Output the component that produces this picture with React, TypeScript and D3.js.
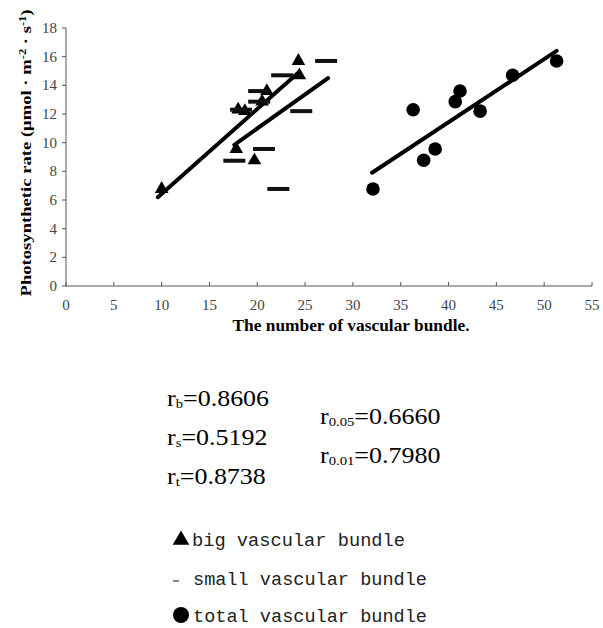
import React from "react";
import * as d3 from "d3";

const xTicks = [0, 5, 10, 15, 20, 25, 30, 35, 40, 45, 50, 55];
const yTicks = [0, 2, 4, 6, 8, 10, 12, 14, 16, 18];

// big vascular bundle (triangles)
const bigX = [10.0, 17.8, 19.7, 18.0, 18.7, 20.5, 21.0, 24.4, 24.3];
const bigY = [6.77, 9.56, 8.77, 12.3, 12.2, 12.86, 13.6, 14.7, 15.7];
// small vascular bundle (dashes)
const smallX = [22.2, 20.7, 17.6, 18.3, 24.6, 20.2, 20.2, 22.6, 27.2];
const smallY = [6.77, 9.56, 8.74, 12.3, 12.2, 12.86, 13.6, 14.7, 15.7];
// total vascular bundle (circles)
const totalX = [32.1, 38.6, 37.4, 36.3, 43.3, 40.7, 41.2, 46.7, 51.3];
const totalY = [6.77, 9.56, 8.77, 12.3, 12.2, 12.86, 13.6, 14.7, 15.7];

// fitted lines [x1, y1, x2, y2]
const bigFit = [9.6, 6.2, 24.4, 14.95];
const smallFit = [17.6, 9.85, 27.4, 14.5];
const totalFit = [32.0, 7.9, 51.3, 16.4];

const stats = [
  { sub: "b", val: "=0.8606" },
  { sub: "s", val: "=0.5192" },
  { sub: "t", val: "=0.8738" },
];
const crit = [
  { sub: "0.05", val: "=0.6660" },
  { sub: "0.01", val: "=0.7980" },
];
const legendLabels = ["big vascular bundle", "small vascular bundle", "total vascular bundle"];

export default function App() {
  const x = d3.scaleLinear().domain([0, 55]).range([66, 592]);
  const y = d3.scaleLinear().domain([0, 18]).range([286, 28]);
  const tri = d3.symbol().type(d3.symbolTriangle).size(80)();
  const triLegend = d3.symbol().type(d3.symbolTriangle).size(120)();
  const serif = "'Liberation Serif', 'DejaVu Serif', serif";
  const mono = "'Liberation Mono', 'DejaVu Sans Mono', monospace";
  const line = (f: number[], key: string) => (
    <line key={key} x1={x(f[0])} y1={y(f[1])} x2={x(f[2])} y2={y(f[3])} stroke="#000" strokeWidth={4} strokeLinecap="round" />
  );
  return (
    <svg width={603} height={628} style={{ position: "absolute", left: 0, top: 0, background: "#fff" }} fontFamily={serif}>
      {/* axes */}
      <line x1={x(0)} y1={y(0)} x2={x(55)} y2={y(0)} stroke="#555" strokeWidth={1} />
      <line x1={x(0)} y1={y(0)} x2={x(0)} y2={y(18)} stroke="#555" strokeWidth={1} />
      {xTicks.map((t) => (
        <g key={"xt" + t}>
          <line x1={x(t)} x2={x(t)} y1={y(0)} y2={y(0) - 4} stroke="#555" />
          <text x={x(t)} y={310} textAnchor="middle" fontSize={15} fill="#444">{t}</text>
        </g>
      ))}
      {yTicks.map((t) => (
        <g key={"yt" + t}>
          <line x1={x(0) - 4} x2={x(0)} y1={y(t)} y2={y(t)} stroke="#555" />
          <text x={57} y={y(t) + 5} textAnchor="end" fontSize={15} fill="#444">{t}</text>
        </g>
      ))}
      <text x={351} y={331} textAnchor="middle" fontSize={16} fontWeight="bold" textLength={237} lengthAdjust="spacingAndGlyphs">
        The number of vascular bundle.
      </text>
      <text transform="translate(31,153) rotate(-90)" textAnchor="middle" fontSize={15} fontWeight="bold" textLength={287} lengthAdjust="spacingAndGlyphs">
        Photosynthetic rate (μmol · m<tspan dy={-5} fontSize={10}>-2</tspan><tspan dy={5}> · s</tspan><tspan dy={-5} fontSize={10}>-1</tspan><tspan dy={5}>)</tspan>
      </text>

      {/* fit lines */}
      {line(bigFit, "bf")}
      {line(smallFit, "sf")}
      {line(totalFit, "tf")}

      {/* markers */}
      {bigX.map((v, i) => (
        <path key={"b" + i} d={tri} transform={`translate(${x(v)},${y(bigY[i])})`} fill="#000" />
      ))}
      {smallX.map((v, i) => (
        <rect key={"s" + i} x={x(v) - 11} y={y(smallY[i]) - 2} width={22} height={4} fill="#111" />
      ))}
      {totalX.map((v, i) => (
        <circle key={"t" + i} cx={x(v)} cy={y(totalY[i])} r={6.8} fill="#000" />
      ))}

      {/* correlation coefficients */}
      {stats.map((s, i) => (
        <text key={"st" + i} transform={`translate(167,${406 + i * 39}) scale(1.13,1)`} fontSize={23}>
          r<tspan fontSize={13} dy={2}>{s.sub}</tspan><tspan dy={-2}>{s.val}</tspan>
        </text>
      ))}
      {crit.map((s, i) => (
        <text key={"cr" + i} transform={`translate(320,${424 + i * 39}) scale(1.13,1)`} fontSize={23}>
          r<tspan fontSize={13} dy={2}>{s.sub}</tspan><tspan dy={-2}>{s.val}</tspan>
        </text>
      ))}

      {/* legend */}
      <path d={triLegend} transform="translate(181,540)" fill="#000" />
      <text x={192} y={546} fontFamily={mono} fontSize={18.5} fill="#222" textLength={213} lengthAdjust="spacingAndGlyphs">{legendLabels[0]}</text>
      <rect x={173} y={580} width={6} height={2} fill="#888" />
      <text x={193} y={585} fontFamily={mono} fontSize={18.5} fill="#222" textLength={234} lengthAdjust="spacingAndGlyphs">{legendLabels[1]}</text>
      <circle cx={181} cy={615} r={8} fill="#000" />
      <text x={193} y={622} fontFamily={mono} fontSize={18.5} fill="#222" textLength={234} lengthAdjust="spacingAndGlyphs">{legendLabels[2]}</text>
    </svg>
  );
}
